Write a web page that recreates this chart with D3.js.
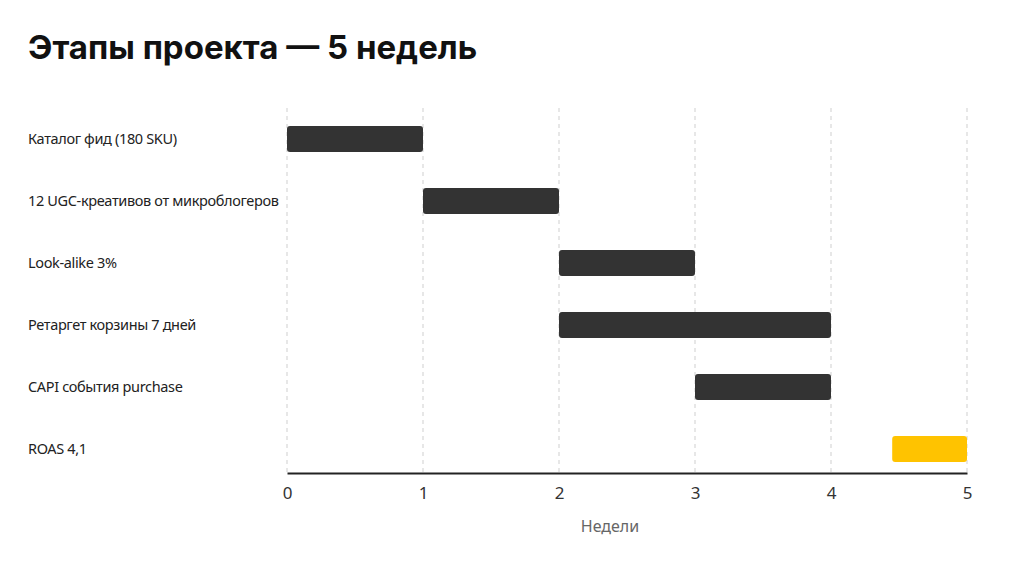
<!DOCTYPE html>
<html lang="ru">
<head>
    <meta charset="UTF-8">
    <title>Этапы проекта — 5 недель</title>
    <script src="https://d3js.org/d3.v7.min.js"></script>
    <style>
        body { margin: 0; background: #fff; }
        .title { font-family: Inter, "Noto Sans", sans-serif; font-weight: 700; font-size: 33px; fill: #111; }
        .task { font-family: "Noto Sans", "Open Sans", sans-serif; font-size: 14.5px; letter-spacing: -0.35px; fill: #222; }
        .tick text { font-family: "Noto Sans", "Open Sans", sans-serif; font-size: 17px; fill: #333; }
        .xlabel { font-family: "Noto Sans", "Open Sans", sans-serif; font-size: 16px; fill: #666; }
    </style>
</head>
<body>
    <script>
        // Data
        const tasks = [
            "Каталог фид (180 SKU)",
            "12 UGC-креативов от микроблогеров",
            "Look-alike 3%",
            "Ретаргет корзины 7 дней",
            "CAPI события purchase",
            "ROAS 4,1"
        ];
        const starts = [0, 1, 2, 2, 3, 4.45];
        const ends = [1, 2, 3, 4, 4, 5];
        const milestone = [false, false, false, false, false, true];
        const weekTicks = [0, 1, 2, 3, 4, 5];

        const width = 1024, height = 576;
        const svg = d3.select("body")
            .append("svg")
            .attr("width", width)
            .attr("height", height);

        svg.append("text")
            .attr("class", "title")
            .attr("x", 28)
            .attr("y", 59)
            .text("Этапы проекта — 5 недель");

        const x = d3.scaleLinear().domain([0, 5]).range([287, 967]);
        const y = d3.scaleBand().domain(tasks).range([108, 480]).paddingInner(0.58).paddingOuter(0.29);
        const axisY = 473;

        // Gridlines
        svg.append("g")
            .selectAll("line")
            .data(weekTicks)
            .join("line")
            .attr("x1", d => x(d))
            .attr("x2", d => x(d))
            .attr("y1", 108)
            .attr("y2", axisY)
            .attr("stroke", "#cfcfcf")
            .attr("stroke-dasharray", "4,4");

        // Bars
        const rows = tasks.map((t, i) => ({ name: t, start: starts[i], end: ends[i], milestone: milestone[i] }));
        svg.append("g")
            .selectAll("rect")
            .data(rows)
            .join("rect")
            .attr("x", d => x(d.start))
            .attr("y", d => y(d.name))
            .attr("width", d => x(d.end) - x(d.start))
            .attr("height", y.bandwidth())
            .attr("rx", 3)
            .attr("fill", d => d.milestone ? "#FFC300" : "#333333");

        // Task labels
        svg.append("g")
            .selectAll("text")
            .data(tasks)
            .join("text")
            .attr("class", "task")
            .attr("x", 28)
            .attr("y", d => y(d) + y.bandwidth() / 2)
            .attr("dy", "0.35em")
            .text(d => d);

        // X axis
        const xAxis = svg.append("g")
            .attr("transform", `translate(0,${axisY})`)
            .call(d3.axisBottom(x).tickValues(weekTicks).tickFormat(d3.format("d")).tickSize(0).tickPadding(14));
        xAxis.select(".domain").attr("stroke", "#222").attr("stroke-width", 2);

        svg.append("text")
            .attr("class", "xlabel")
            .attr("x", 610)
            .attr("y", 532)
            .attr("text-anchor", "middle")
            .text("Недели");
    </script>
</body>
</html>
